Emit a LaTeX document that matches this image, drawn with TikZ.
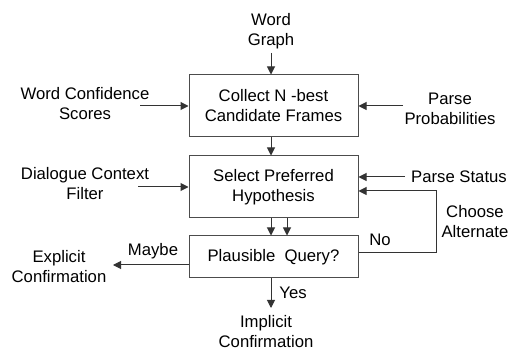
\documentclass[tikz,border=0pt]{standalone}
\usepackage{fontspec}
\setmainfont{Liberation Sans}
\usetikzlibrary{arrows.meta}
\begin{document}
\begin{tikzpicture}[x=1pt,y=-1pt,
  every node/.style={font=\fontsize{16.7}{20}\selectfont, inner sep=0pt},
  lbl/.style={align=center},
  box/.style={draw=black!70, line width=1pt, minimum width=169pt, align=center},
  arr/.style={draw=black!80, line width=1pt, -{Triangle[length=8pt,width=8pt]}}]
\useasboundingbox (0,0) rectangle (511,352);
% boxes
\node[box, minimum height=62pt] (b1) at (273.5,106) {Collect N -best\\Candidate Frames};
\node[box, minimum height=62pt] (b2) at (273.5,187) {Select Preferred\\Hypothesis};
\node[box, minimum height=42pt] (b3) at (273.5,257) {Plausible\ \ Query?};
% labels
\node[lbl] (wg) at (271,31) {Word\\Graph};
\node[lbl] (wc) at (85,104) {Word Confidence\\Scores};
\node[lbl] (pp) at (450,109) {Parse\\Probabilities};
\node[lbl] (dc) at (85,184) {Dialogue Context\\Filter};
\node[anchor=west] (ps) at (411,177) {Parse Status};
\node[lbl] (ca) at (475,222) {Choose\\Alternate};
\node (no) at (380,240) {No};
\node (maybe) at (153,251) {Maybe};
\node[lbl] (ec) at (59,267) {Explicit\\Confirmation};
\node (yes) at (293,293) {Yes};
\node[lbl] (ic) at (266,332) {Implicit\\Confirmation};
% free ends
\coordinate (wgE) at (271,53);
\coordinate (wcE) at (140,106);
\coordinate (ppE) at (403,106);
\coordinate (dcE) at (138,187);
\coordinate (psE) at (405,177);
\coordinate (mbE) at (113,265);
\coordinate (ysE) at (271,308);
\coordinate (loopX) at (436,0);
% connectors
\draw[arr] (wgE) -- (wgE |- b1.north);
\draw[arr] (wcE) -- (b1.west);
\draw[arr] (ppE) -- (b1.east);
\draw[arr] ([xshift=-2.5pt]b1.south) -- ([xshift=-2.5pt]b2.north);
\draw[arr] (dcE) -- (b2.west);
\draw[arr] (psE) -- (psE -| b2.east);
\draw[arr] ([xshift=-2.5pt]b2.south) -- ([xshift=-2.5pt]b3.north);
\draw[arr] ([xshift=13.5pt]b2.south) -- ([xshift=13.5pt]b3.north);
\draw[arr] ([yshift=4pt]b3.east) -- ([yshift=4pt]b3.east -| loopX) |- ([yshift=-4pt]b2.east);
\draw[arr] ([yshift=-8pt]b3.west) -- (mbE);
\draw[arr] ([xshift=-2.5pt]b3.south) -- (ysE);
\end{tikzpicture}
\end{document}
